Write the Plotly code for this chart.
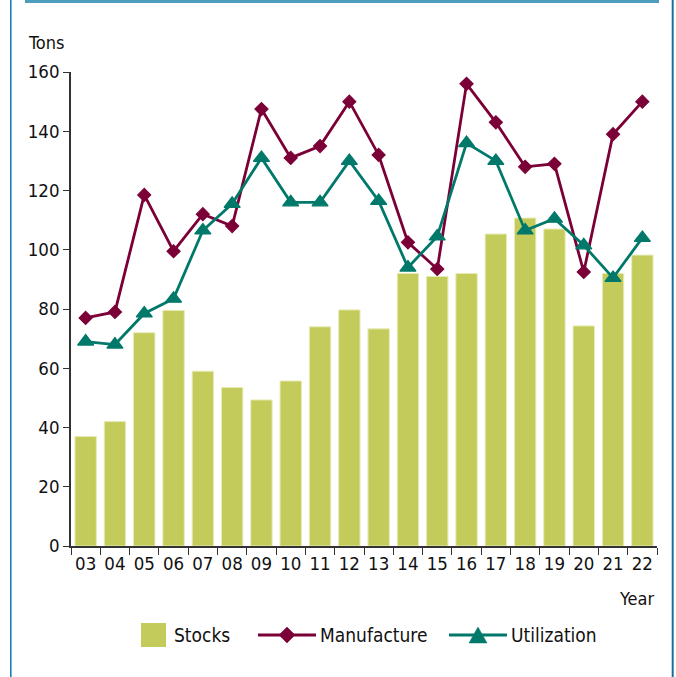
import plotly.graph_objects as go

years = ["03","04","05","06","07","08","09","10","11","12","13","14","15","16","17","18","19","20","21","22"]
stocks = [37, 42, 72, 79.5, 59, 53.5, 49.3, 55.7, 74, 79.7, 73.3, 92, 91, 92, 105.3, 110.7, 107, 74.3, 92, 98.2]
manufacture = [77, 79, 118.5, 99.5, 112, 108, 147.5, 131, 135, 150, 132, 102.5, 93.5, 156, 143, 128, 129, 92.5, 139, 150]
utilization = [69, 68, 78.5, 83.5, 106.5, 115.5, 131, 116, 116, 130, 116.5, 94, 104.5, 136, 130, 106.5, 110.5, 101.5, 90.5, 104]
y_ticks = [0, 20, 40, 60, 80, 100, 120, 140, 160]

FONT = "DejaVu Sans Condensed, Liberation Sans Narrow, Roboto, sans-serif"
C_BAR = "#c3cb5a"
C_MAN = "#7b0037"
C_UTI = "#00796a"

fig = go.Figure()
fig.add_trace(go.Bar(x=years, y=stocks, name="Stocks",
                     marker=dict(color=C_BAR, line=dict(color="#e8ebb8", width=1))))
fig.add_trace(go.Scatter(x=years, y=manufacture, name="Manufacture", mode="lines+markers",
                         line=dict(color=C_MAN, width=2.8),
                         marker=dict(symbol="diamond", size=10, color=C_MAN,
                                     line=dict(color=C_MAN, width=1.2))))
fig.add_trace(go.Scatter(x=years, y=utilization, name="Utilization", mode="lines+markers",
                         line=dict(color=C_UTI, width=2.8),
                         marker=dict(symbol="triangle-up", size=14, color=C_UTI,
                                     line=dict(color=C_UTI, width=1.2))))

L, R, T, B = 71, 676 - 657, 72, 677 - 546
W, H = 676, 677
pw, ph = W - L - R, H - T - B

def px(x):
    return (x - L) / pw

def py(y):
    return (H - B - y) / ph

def hline(x0, x1, y, color, width):
    return dict(type="line", xref="paper", yref="paper", x0=px(x0), x1=px(x1), y0=py(y), y1=py(y),
                line=dict(color=color, width=width), layer="above")

def vline(x, y0, y1, color, width):
    return dict(type="line", xref="paper", yref="paper", x0=px(x), x1=px(x), y0=py(y0), y1=py(y1),
                line=dict(color=color, width=width), layer="above")

def marker_path(cx, cy, path, color):
    return dict(type="path", xref="paper", yref="paper", xsizemode="pixel", ysizemode="pixel",
                xanchor=px(cx), yanchor=py(cy), path=path, fillcolor=color,
                line=dict(color=color, width=0.5), layer="above")

shapes = [
    vline(10.8, -5, 685, "#1e7fc0", 1.6),
    vline(672.7, -5, 685, "#1a6f9a", 2),
    hline(25, 659, 1.5, "#4d9dbf", 3),
    # manual legend
    dict(type="rect", xref="paper", yref="paper", x0=px(141), x1=px(166), y0=py(647), y1=py(623),
         fillcolor=C_BAR, line=dict(width=0), layer="above"),
    hline(258, 316, 635, C_MAN, 2.8),
    marker_path(287, 635, "M 0 8 L 8 0 L 0 -8 L -8 0 Z", C_MAN),
    hline(449, 507, 635, C_UTI, 2.8),
    marker_path(478, 635, "M -9 -8 L 9 -8 L 0 8 Z", C_UTI),
]

def label(text, x, y, anchor="left", size=18):
    return dict(text=text, xref="paper", yref="paper", x=px(x), y=py(y), xanchor=anchor,
                yanchor="middle", showarrow=False, font=dict(size=size), borderpad=0)

annotations = [
    label("Tons", 27, 43),
    label("Year", 655, 598, "right"),
    label("Stocks", 173, 635, size=19),
    label("Manufacture", 319, 635, size=19),
    label("Utilization", 510, 635, size=19),
]

fig.update_layout(
    width=W, height=H,
    margin=dict(l=L, r=R, t=T, b=B, autoexpand=False),
    paper_bgcolor="white", plot_bgcolor="white",
    font=dict(family=FONT, size=18, color="#111"),
    bargap=0.27,
    showlegend=False,
    xaxis=dict(type="category", range=[-0.5, len(years) - 0.5], showline=True, linecolor="#333",
               linewidth=1.5, ticks="outside", tickson="boundaries", ticklen=7, tickcolor="#333",
               tickwidth=1.2, showgrid=False, tickfont=dict(size=18.5), tickangle=0, automargin=False),
    yaxis=dict(range=[0, 160], tickvals=y_ticks, showline=True, linecolor="#333", linewidth=1.5,
               ticks="outside", ticklen=6, tickcolor="#333", tickwidth=1.2, showgrid=False,
               zeroline=False, tickfont=dict(size=18.5), automargin=False),
    shapes=shapes,
    annotations=annotations,
)

fig.write_html("out.html", config={"displayModeBar": False},
               post_script="document.body.style.margin='0';")
